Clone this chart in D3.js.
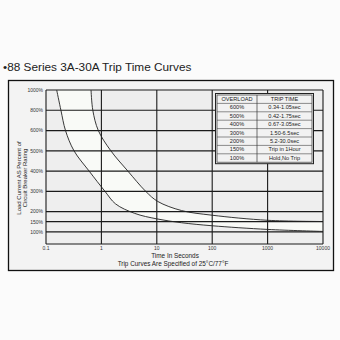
<!DOCTYPE html>
<html>
<head>
<meta charset="utf-8">
<script src="https://cdn.jsdelivr.net/npm/d3@7.9.0/dist/d3.min.js"></script>
<style>
  html, body { margin: 0; padding: 0; background: #fbfbfb; }
  svg { display: block; font-family: "Liberation Sans", Arial, sans-serif; }
</style>
</head>
<body>
<div id="chart"></div>
<script>
// Trip time curves: [seconds, percent of rating]
const minCurve = [
  [0.156, 1000], [0.186, 800], [0.225, 600], [0.32, 500], [0.6, 400],
  [1.16, 300], [1.8, 238], [4, 191], [10, 164], [28, 145], [100, 130],
  [1000, 112], [10000, 102]
];
const maxCurve = [
  [0.65, 1000], [0.7, 800], [0.88, 600], [1.48, 500], [3.0, 400],
  [6.3, 300], [10.4, 250], [28, 205], [100, 182], [1000, 157], [10000, 151]
];

const xTicks = [0.1, 1, 10, 100, 1000, 10000];
const xTickLabels = ['0.1', '1', '10', '100', '1000', '10000'];
const yTicks = [1000, 800, 600, 500, 400, 300, 200, 150, 100];
const yBottom = 40;

const tableHeader = ['OVERLOAD', 'TRIP TIME'];
const tableRows = [
  ['600%', '0.34-1.05sec'],
  ['500%', '0.42-1.75sec'],
  ['400%', '0.67-3.05sec'],
  ['300%', '1.50-6.5sec'],
  ['200%', '5.2-30.0sec'],
  ['150%', 'Trip in 1Hour'],
  ['100%', 'Hold,No Trip'],
];

const title = '\u202288 Series 3A-30A Trip Time Curves';
const xTitle = 'Time In Seconds';
const xNote = 'Trip Curves Are Specified of 25\u00B0C/77\u00B0F';
const yTitle = ['Load Current AS Percent of', 'Circuit Breaker Rating'];

function render() {
  const width = 340, height = 340;
  const plot = { left: 46, right: 323, top: 90, bottom: 244 };

  const svg = d3.select('#chart').append('svg')
    .attr('width', width).attr('height', height);

  const x = d3.scaleLog()
    .domain([0.1, 10000])
    .range([plot.left, plot.right]);

  // uneven vertical spacing, as printed on the sheet
  const ySteps = [yBottom, 100, 150, 200, 300, 400, 500, 600, 800, 1000];
  const yUnits = [7.6, 7, 6.5, 6, 5, 4, 3, 2, 1, 0];
  const unit = (plot.bottom - plot.top) / 7.6;
  const y = d3.scaleLinear()
    .domain(ySteps)
    .range(yUnits.map(u => plot.top + u * unit));

  // centripetal spline in screen space keeps the steep top smooth
  const curveLine = d3.line()
    .x(d => x(d[0])).y(d => y(d[1]))
    .curve(d3.curveCatmullRom.alpha(0.5));

  // title
  svg.append('text')
    .attr('x', 3).attr('y', 71)
    .attr('font-size', 11.8)
    .attr('fill', '#222')
    .text(title);

  // outer frame
  svg.append('rect')
    .attr('x', 8.5).attr('y', 80.5)
    .attr('width', 325).attr('height', 190)
    .attr('fill', '#f3f3f3')
    .attr('stroke', '#111').attr('stroke-width', 1.3);

  // plot background
  svg.append('rect')
    .attr('x', plot.left).attr('y', plot.top)
    .attr('width', plot.right - plot.left).attr('height', plot.bottom - plot.top)
    .attr('fill', '#eeeeee');

  // band between the curves: region under max curve light, then under min curve back to grey
  const under = c => curveLine(c) +
    `L${plot.right},${plot.bottom}L${plot.left},${plot.bottom}L${plot.left},${plot.top}Z`;
  svg.append('path').attr('d', under(maxCurve)).attr('fill', '#f9faf7');
  svg.append('path').attr('d', under(minCurve)).attr('fill', '#eeeeee');

  // horizontal gridlines
  svg.append('g')
    .selectAll('line')
    .data(yTicks)
    .join('line')
    .attr('x1', plot.left).attr('x2', plot.right)
    .attr('y1', d => y(d)).attr('y2', d => y(d))
    .attr('stroke', '#1a1a1a').attr('stroke-width', 1.2);

  // vertical gridlines
  svg.append('g')
    .selectAll('line')
    .data(xTicks)
    .join('line')
    .attr('x1', d => x(d)).attr('x2', d => x(d))
    .attr('y1', plot.top).attr('y2', plot.bottom)
    .attr('stroke', '#1a1a1a').attr('stroke-width', 1.1);

  // bottom axis line
  svg.append('line')
    .attr('x1', plot.left).attr('x2', plot.right)
    .attr('y1', plot.bottom).attr('y2', plot.bottom)
    .attr('stroke', '#1a1a1a').attr('stroke-width', 1.2);

  // curves
  [minCurve, maxCurve].forEach(c => {
    svg.append('path')
      .attr('d', curveLine(c))
      .attr('fill', 'none')
      .attr('stroke', '#222')
      .attr('stroke-width', 0.9);
  });

  // y tick labels
  svg.append('g')
    .selectAll('text')
    .data(yTicks)
    .join('text')
    .attr('x', plot.left - 3).attr('y', d => y(d) + 1.8)
    .attr('text-anchor', 'end')
    .attr('font-size', 5)
    .attr('fill', '#333')
    .text(d => d + '%');

  // x tick labels
  svg.append('g')
    .selectAll('text')
    .data(xTicks)
    .join('text')
    .attr('x', d => x(d)).attr('y', plot.bottom + 6)
    .attr('text-anchor', 'middle')
    .attr('font-size', 5)
    .attr('fill', '#333')
    .text((d, i) => xTickLabels[i]);

  // axis titles
  svg.append('text')
    .attr('x', 175).attr('y', 257.5)
    .attr('text-anchor', 'middle')
    .attr('font-size', 6.4)
    .attr('fill', '#222')
    .text(xTitle);
  svg.append('text')
    .attr('x', 173).attr('y', 265.5)
    .attr('text-anchor', 'middle')
    .attr('font-size', 6.4)
    .attr('fill', '#222')
    .text(xNote);

  svg.append('g')
    .attr('transform', 'translate(21,178) rotate(-90)')
    .selectAll('text')
    .data(yTitle)
    .join('text')
    .attr('x', 0).attr('y', (d, i) => i * 6)
    .attr('text-anchor', 'middle')
    .attr('font-size', 6)
    .attr('fill', '#222')
    .text(d => d);

  // overload table
  const tb = { x: 217, y: 95, w: 95, colW: 40, rowH: 8.4 };
  const rows = [tableHeader, ...tableRows];
  const table = svg.append('g');
  table.append('rect')
    .attr('x', tb.x - 1.5).attr('y', tb.y - 1.5)
    .attr('width', tb.w + 3).attr('height', rows.length * tb.rowH + 3)
    .attr('fill', '#f2f2f2')
    .attr('stroke', '#222').attr('stroke-width', 1);
  table.append('rect')
    .attr('x', tb.x).attr('y', tb.y)
    .attr('width', tb.w).attr('height', rows.length * tb.rowH)
    .attr('fill', 'none')
    .attr('stroke', '#333').attr('stroke-width', 0.7);
  table.selectAll('line.row')
    .data(d3.range(1, rows.length))
    .join('line')
    .attr('class', 'row')
    .attr('x1', tb.x).attr('x2', tb.x + tb.w)
    .attr('y1', i => tb.y + i * tb.rowH).attr('y2', i => tb.y + i * tb.rowH)
    .attr('stroke', '#444').attr('stroke-width', 0.6);
  table.append('line')
    .attr('x1', tb.x + tb.colW).attr('x2', tb.x + tb.colW)
    .attr('y1', tb.y).attr('y2', tb.y + rows.length * tb.rowH)
    .attr('stroke', '#333').attr('stroke-width', 0.7);
  const cells = table.selectAll('g.r')
    .data(rows)
    .join('g')
    .attr('class', 'r')
    .attr('transform', (d, i) => `translate(0,${tb.y + i * tb.rowH + 6})`);
  cells.append('text')
    .attr('x', tb.x + tb.colW / 2)
    .attr('text-anchor', 'middle')
    .attr('font-size', 5.6)
    .attr('fill', '#222')
    .text(d => d[0]);
  cells.append('text')
    .attr('x', tb.x + tb.colW + (tb.w - tb.colW) / 2)
    .attr('text-anchor', 'middle')
    .attr('font-size', 5.6)
    .attr('fill', '#222')
    .text(d => d[1]);
}

render();
</script>
</body>
</html>
